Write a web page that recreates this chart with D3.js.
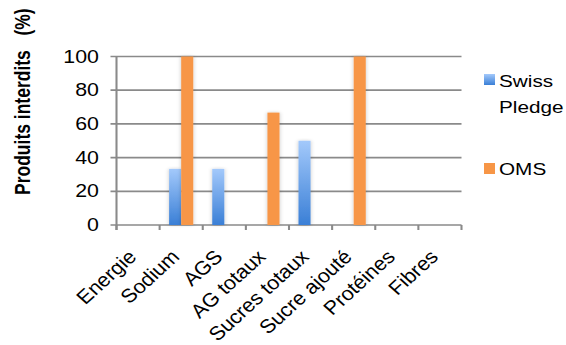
<!DOCTYPE html>
<html>
<head>
<meta charset="utf-8">
<script src="https://cdn.jsdelivr.net/npm/d3@7"></script>
<style>
  html, body { margin: 0; padding: 0; background: #fff; }
  svg { display: block; }
  text { font-family: "Liberation Sans", Arial, Helvetica, sans-serif; fill: #000; }
</style>
</head>
<body>
<script>
// Chart data
const categories = ["Energie", "Sodium", "AGS", "AG totaux", "Sucres totaux", "Sucre ajouté", "Protéines", "Fibres"];
const seriesNames = ["Swiss Pledge", "OMS"];
const swissPledge = [0, 33.3, 33.3, 0, 50, 0, 0, 0];
const oms = [0, 100, 0, 66.7, 0, 100, 0, 0];
const yTicks = [0, 20, 40, 60, 80, 100];
const yTitle = "Produits interdits   (%)";

const W = 566, H = 345;
// The chart is laid out in a narrower frame and widened horizontally.
const SX = 1.22;

const svg = d3.select("body").append("svg").attr("width", W).attr("height", H);
const defs = svg.append("defs");

const grad = defs.append("linearGradient").attr("id", "blueGrad")
  .attr("x1", 0).attr("y1", 0).attr("x2", 0).attr("y2", 1);
grad.append("stop").attr("offset", "0%").attr("stop-color", "#a3c9fb");
grad.append("stop").attr("offset", "100%").attr("stop-color", "#3a7fd6");

const shadow = defs.append("filter").attr("id", "barShadow")
  .attr("x", "-60%").attr("y", "-10%").attr("width", "220%").attr("height", "120%");
shadow.append("feDropShadow").attr("dx", 0).attr("dy", 0).attr("stdDeviation", 1.6)
  .attr("flood-color", "#000").attr("flood-opacity", 0.22);

const g = svg.append("g").attr("transform", `scale(${SX},1)`);

const left = 116.5 / SX, right = 461.5 / SX;
const y0 = 225, yTop = 56.5;

const x = d3.scaleBand().domain(categories).range([left, right]).paddingInner(0.44).paddingOuter(0.22);
const xs = d3.scaleBand().domain(seriesNames).range([0, x.bandwidth()]);
const y = d3.scaleLinear().domain([0, 100]).range([y0, yTop]);
const step = (right - left) / categories.length;

// Horizontal gridlines with short outer ticks
const grid = g.append("g");
grid.selectAll("line").data(yTicks).join("line")
  .attr("x1", left - 6 / SX).attr("x2", right)
  .attr("y1", d => y(d)).attr("y2", d => y(d))
  .attr("stroke", "#8a8a8a").attr("stroke-width", 1.7);

// Y axis line
g.append("line").attr("x1", left).attr("x2", left)
  .attr("y1", yTop).attr("y2", y0 + 5)
  .attr("stroke", "#8a8a8a").attr("stroke-width", 1.7);

// Category separators (ticks below the axis)
g.append("g").selectAll("line").data(d3.range(categories.length + 1)).join("line")
  .attr("x1", i => left + i * step).attr("x2", i => left + i * step)
  .attr("y1", y0).attr("y2", y0 + 5)
  .attr("stroke", "#8a8a8a").attr("stroke-width", 1.7);

// Y tick labels
g.append("g").selectAll("text").data(yTicks).join("text")
  .attr("x", 99 / SX).attr("y", d => y(d) + 6.2)
  .attr("text-anchor", "end").attr("font-size", 17.5)
  .text(d => d);

// Bars
const rows = categories.map((c, i) => ({ cat: c, vals: [swissPledge[i], oms[i]] }));
const fills = ["url(#blueGrad)", "#f79646"];
const bars = g.append("g");
rows.forEach(r => {
  r.vals.forEach((v, k) => {
    if (v <= 0) return;
    bars.append("rect")
      .attr("x", x(r.cat) + xs(seriesNames[k]))
      .attr("width", xs.bandwidth())
      .attr("y", y(v))
      .attr("height", y(0) - y(v))
      .attr("fill", fills[k])
      .attr("filter", "url(#barShadow)");
  });
});

// X category labels, rotated (drawn in page units)
svg.append("g").selectAll("text").data(categories).join("text")
  .attr("transform", d => `translate(${(x(d) + x.bandwidth() / 2) * SX - 0.5},${y0 + 33}) scale(1.1,1) rotate(-45)`)
  .attr("text-anchor", "end").attr("font-size", 19.5)
  .text(d => d);

// Y axis title
g.append("text")
  .attr("transform", `translate(${30 / SX},195) rotate(-90)`)
  .attr("font-size", 17.5).attr("font-weight", "bold")
  .style("white-space", "pre")
  .text(yTitle);

// Legend
const legend = g.append("g");
const legendItems = [
  { fill: fills[0], sy: 74, lines: ["Swiss", "Pledge"], base: 86.7 },
  { fill: fills[1], sy: 163, lines: ["OMS"], base: 175 }
];
legendItems.forEach(it => {
  legend.append("rect").attr("x", 484 / SX).attr("y", it.sy)
    .attr("width", 11 / SX).attr("height", 11).attr("fill", it.fill);
  it.lines.forEach((t, j) => {
    legend.append("text").attr("x", 499 / SX).attr("y", it.base + j * 26.5)
      .attr("font-size", 17).text(t);
  });
});
</script>
</body>
</html>
